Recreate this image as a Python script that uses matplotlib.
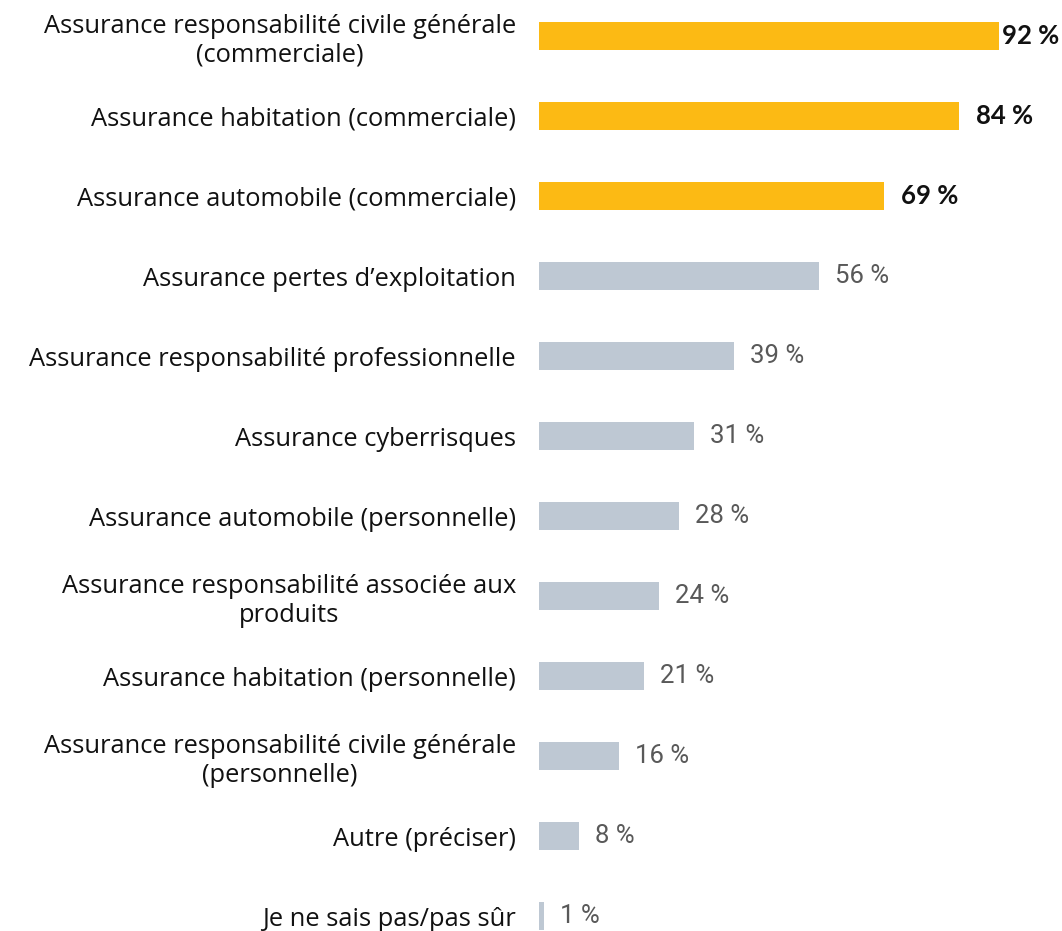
import matplotlib
matplotlib.use("Agg")
import matplotlib.pyplot as plt

categories = [
    "Assurance responsabilité civile générale\n(commerciale)",
    "Assurance habitation (commerciale)",
    "Assurance automobile (commerciale)",
    "Assurance pertes d\u2019exploitation",
    "Assurance responsabilité professionnelle",
    "Assurance cyberrisques",
    "Assurance automobile (personnelle)",
    "Assurance responsabilité associée aux\nproduits",
    "Assurance habitation (personnelle)",
    "Assurance responsabilité civile générale\n(personnelle)",
    "Autre (préciser)",
    "Je ne sais pas/pas sûr",
]
values = [92, 84, 69, 56, 39, 31, 28, 24, 21, 16, 8, 1]
highlight = [True, True, True, False, False, False, False, False, False, False, False, False]

GOLD = "#FCBA14"
GREY = "#BEC8D3"

fig = plt.figure(figsize=(10.62, 9.31), dpi=100)
ax = fig.add_axes([539 / 1062, 0.0, 500 / 1062, 1.0])

ys = list(range(len(values)))
colors = [GOLD if h else GREY for h in highlight]
ax.barh(ys, values, height=0.36, color=colors)
ax.set_xlim(0, 100)
ax.set_ylim(11.1875, -0.45)

for y, v, h in zip(ys, values, highlight):
    if h:
        off = 2 if v > 90 else 12
        ax.annotate(f"{v} %", (v, y), xytext=(off, 0), textcoords="offset points",
                    va="center", ha="left", fontsize=18.5, fontweight="bold",
                    color="#111111", family="Lato")
    else:
        ax.annotate(f"{v} %", (v, y), xytext=(11.5, 0), textcoords="offset points",
                    va="center", ha="left", fontsize=18.5, color="#595959",
                    family="Roboto")

ax.set_yticks(ys)
ax.set_yticklabels(categories, fontsize=18.4, family="Open Sans", color="#111111",
                   multialignment="center", linespacing=1.2)
ax.tick_params(axis="y", length=0, pad=16.5)
ax.set_xticks([])
for s in ax.spines.values():
    s.set_visible(False)

fig.savefig("out.png", dpi=100)
